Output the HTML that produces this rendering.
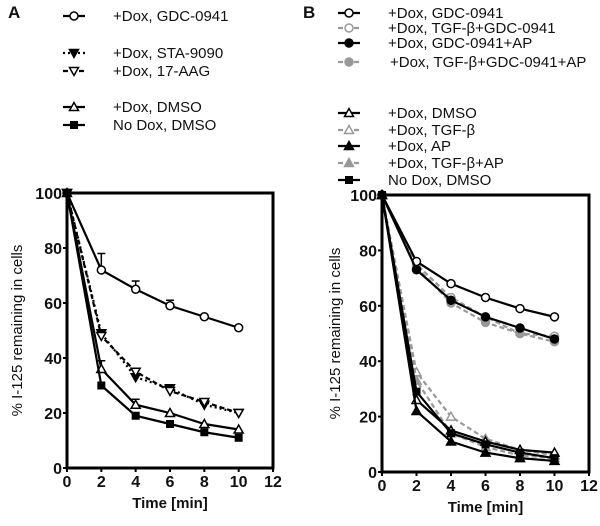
<!DOCTYPE html>
<html><head><meta charset="utf-8"><style>
body{margin:0;background:#fff;}
svg text{font-family:"Liberation Sans",Arial,sans-serif;}
</style></head><body>
<svg id="c" width="600" height="521" xmlns="http://www.w3.org/2000/svg"></svg>
<script>
const times=[0,2,4,6,8,10];
const xTicks=[0,2,4,6,8,10,12];
const yTicks=[0,20,40,60,80,100];
const aGdc=[100,72,65,59,55,51];
const aSta=[100,49,33,29,23,20];
const aAag=[100,48,35,28,24,20];
const aDmso=[100,36,23,20,16,14];
const aNoDox=[100,30,19,16,13,11];
const bGdc=[100,76,68,63,59,56];
const bTgfGdc=[100,75,63,56,50,49];
const bGdcAp=[100,73,62,56,52,48];
const bTgfGdcAp=[100,74,61,54,50,47];
const bDmso=[100,26,15,11,8,7];
const bTgf=[100,36,20,12,8,6];
const bAp=[100,22,11,7,5,4];
const bTgfAp=[100,33,14,9,6,5];
const bNoDox=[100,29,14,10,7,5];
const aErr=[0,6,3,2,0,0];

const NS="http://www.w3.org/2000/svg";
const svg=document.getElementById('c');
function el(t,a,p){const e=document.createElementNS(NS,t);for(const k in a)e.setAttribute(k,a[k]);(p||svg).appendChild(e);return e;}
function txt(x,y,s,a,p){const e=el('text',Object.assign({x:x,y:y,'font-size':13,fill:'#111'},a||{}),p);e.textContent=s;return e;}

function marker(g,type,x,y,col){
  const fill=type.endsWith('f')?col:'#fff';
  let m;
  if(type[0]==='c') m=el('circle',{cx:x,cy:y,r:4,fill:fill,stroke:col,'stroke-width':1.5},g);
  else if(type[0]==='u') m=el('polygon',{points:`${x},${y-4.5} ${x-4.5},${y+3.5} ${x+4.5},${y+3.5}`,fill:fill,stroke:col,'stroke-width':1.5},g);
  else if(type[0]==='d') m=el('polygon',{points:`${x},${y+4.5} ${x-4.5},${y-3.5} ${x+4.5},${y-3.5}`,fill:fill,stroke:col,'stroke-width':1.5},g);
  else m=el('rect',{x:x-4,y:y-4,width:8,height:8,fill:col},g);
  
  
}

function panel(name,x0,x1,y0,y100,series,labx){
  const g=el('g',{});
  
  
  const sx=v=>x0+(x1-x0)*v/12, sy=v=>y0-(y0-y100)*v/100;
  el('rect',{x:x0,y:y100,width:x1-x0,height:y0-y100,fill:'none',stroke:'#000','stroke-width':3},g);
  xTicks.forEach(t=>{el('line',{x1:sx(t),x2:sx(t),y1:y0,y2:y0+4,stroke:'#000','stroke-width':2},g);
    const l=txt(sx(t),y0+19,t,{'text-anchor':'middle','font-size':16,'font-weight':'bold'},g);});
  yTicks.forEach(t=>{el('line',{x1:x0-4,x2:x0,y1:sy(t),y2:sy(t),stroke:'#000','stroke-width':2},g);
    const l=txt(x0-5,sy(t)+6,t,{'text-anchor':'end','font-size':16,'font-weight':'bold'},g);});
  const xt=txt((x0+x1)/2,y0+40,'Time [min]',{'text-anchor':'middle','font-size':15,'font-weight':'bold'},g);
  
  const yt=txt(0,0,'% I-125 remaining in cells',{'text-anchor':'middle','font-size':15,transform:`translate(${labx},${(y0+y100)/2}) rotate(-90)`},g);
  
  series.forEach(s=>{
    const pts=times.map((t,i)=>sx(t)+','+sy(s.v[i])).join(' ');
    const pl=el('polyline',{points:pts,fill:'none',stroke:s.c,'stroke-width':2.2,'stroke-dasharray':s.d||''},g);
    
    if(s.e) times.forEach((t,i)=>{if(s.e[i]){el('line',{x1:sx(t),x2:sx(t),y1:sy(s.v[i]),y2:sy(s.v[i]+s.e[i]),stroke:s.c,'stroke-width':1.5},g);el('line',{x1:sx(t)-4,x2:sx(t)+4,y1:sy(s.v[i]+s.e[i]),y2:sy(s.v[i]+s.e[i]),stroke:s.c,'stroke-width':1.5},g);}});
    times.forEach((t,i)=>marker(g,s.m,sx(t),sy(s.v[i]),s.c));
  });
}
function legend(x,lx,y,lab,m,c,d){
  const g=el('g',{});
  
  
  el('line',{x1:x,x2:x+22,y1:y,y2:y,stroke:c,'stroke-width':2.2,'stroke-dasharray':d||''},g);
  marker(g,m,x+11,y,c);
  txt(lx,y+5,lab,{'font-size':15},g);
}
const G='#999';
const la=txt(8,18,'A',{'font-size':17,'font-weight':'bold'});
const lb=txt(303,18,'B',{'font-size':17,'font-weight':'bold'});
legend(63,113,16,'+Dox, GDC-0941','co','#000');
legend(63,113,53,'+Dox, STA-9090','df','#000','2 3');
legend(63,113,71,'+Dox, 17-AAG','do','#000','5 3');
legend(63,113,107,'+Dox, DMSO','uo','#000');
legend(63,113,125,'No Dox, DMSO','s','#000');
legend(338,388,13,'+Dox, GDC-0941','co','#000');
legend(338,388,28,'+Dox, TGF-β+GDC-0941','co',G,'5 3');
legend(338,388,43,'+Dox, GDC-0941+AP','cf','#000');
legend(338,390,62,'+Dox, TGF-β+GDC-0941+AP','cf',G,'5 3');
legend(338,388,113,'+Dox, DMSO','uo','#000');
legend(338,388,130,'+Dox, TGF-β','uo',G,'5 3');
legend(338,388,146,'+Dox, AP','uf','#000');
legend(338,388,163,'+Dox, TGF-β+AP','uf',G,'5 3');
legend(338,388,180,'No Dox, DMSO','s','#000');
panel('panel-a-chart',67,273,468,193,[
 {v:aGdc,m:'co',c:'#000',e:aErr},
 {v:aSta,m:'df',c:'#000',d:'2 3'},
 {v:aAag,m:'do',c:'#000',d:'5 3'},
 {v:aDmso,m:'uo',c:'#000',e:[0,3,2,0,0,0]},
 {v:aNoDox,m:'s',c:'#000'}],22);
panel('panel-b-chart',382,589,472,195,[
 {v:bTgfGdc,m:'co',c:G,d:'5 3'},
 {v:bTgfGdcAp,m:'cf',c:G,d:'5 3'},
 {v:bTgf,m:'uo',c:G,d:'5 3'},
 {v:bTgfAp,m:'uf',c:G,d:'5 3'},
 {v:bGdc,m:'co',c:'#000'},
 {v:bGdcAp,m:'cf',c:'#000'},
 {v:bDmso,m:'uo',c:'#000'},
 {v:bAp,m:'uf',c:'#000'},
 {v:bNoDox,m:'s',c:'#000'}],340);
</script>
</body></html>
